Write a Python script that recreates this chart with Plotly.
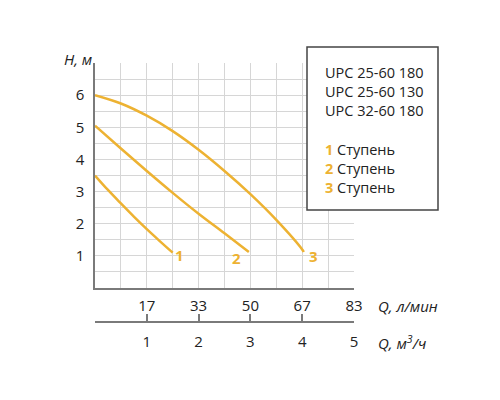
import plotly.graph_objects as go

ORANGE = "#EDB232"
GRID = "#d6d6d6"
AXIS = "#7a7a7a"
FONT = "Open Sans"

# flow in m3/h, head in m
q1 = [0, 0.25, 0.5, 0.75, 1.0, 1.25, 1.5]
h1 = [3.5, 3.05, 2.63, 2.22, 1.83, 1.46, 1.1]
q2 = [0, 0.5, 1.0, 1.5, 2.0, 2.5, 2.97]
h2 = [5.05, 4.34, 3.64, 2.96, 2.31, 1.7, 1.12]
q3 = [0, 0.5, 1.0, 1.5, 2.0, 2.5, 3.0, 3.5, 4.0, 4.03]
h3 = [6.0, 5.74, 5.36, 4.88, 4.3, 3.64, 2.92, 2.12, 1.2, 1.12]

speed_labels = ["1", "2", "3"]
models = ["UPC 25-60 180", "UPC 25-60 130", "UPC 32-60 180"]

q_m3h_ticks = [0, 1, 2, 3, 4, 5]
q_m3h_text = ["", "1", "2", "3", "4", "5"]
q_lmin_ticks = [1, 2, 3, 4, 5]
q_lmin_text = ["17", "33", "50", "67", "83"]
h_ticks = [1, 2, 3, 4, 5, 6]

# page geometry (px, screen coords; the page body adds ~8px)
OFF = 8
L, T, W, H = 95 - OFF, 63 - OFF, 259, 259


def px(x):
    return (x - OFF - L) / W


def py(y):
    return (T + H - (y - OFF)) / H


def note(x, y, text, size=15, color="#222", xanchor="left"):
    return dict(x=px(x), y=py(y), xref="paper", yref="paper", text=text, showarrow=False,
                xanchor=xanchor, yanchor="middle", font=dict(size=size, family=FONT, color=color))


fig = go.Figure()
for q, h in [(q1, h1), (q2, h2), (q3, h3)]:
    fig.add_trace(go.Scatter(x=q, y=h, mode="lines", line=dict(color=ORANGE, width=2.5, shape="spline"),
                             showlegend=False, hoverinfo="skip"))

# hidden trace for the second flow axis
fig.add_trace(go.Scatter(x=[0, 5], y=[0, 0], xaxis="x2", mode="lines", line=dict(width=0),
                         showlegend=False, hoverinfo="skip"))

ann = []
for (q, h), lab, dx, dy in zip([(q1, h1), (q2, h2), (q3, h3)], speed_labels, [7, -12, 10], [2, 6, 4]):
    ann.append(dict(x=q[-1], y=h[-1], text=f"<b>{lab}</b>", showarrow=False, xanchor="center", yanchor="middle",
                    xshift=dx, yshift=-dy, font=dict(color=ORANGE, size=15, family=FONT)))

ann.append(note(94, 59, "<i>H, м</i>", xanchor="right"))
ann.append(note(376, 306, "<i>Q, л/мин</i>"))
ann.append(note(376, 342, "<i>Q, м<sup>3</sup>/ч</i>"))

for i, m in enumerate(models):
    ann.append(note(323, 72 + 19 * i, m, size=14.5))
for i, lab in enumerate(speed_labels):
    ann.append(note(323, 149 + 19 * i, f"<b>{lab}</b>", size=14.5, color=ORANGE))
    ann.append(note(335, 149 + 19 * i, "Ступень", size=14.5))

fig.update_layout(
    width=500, height=400,
    margin=dict(l=L, r=500 - L - W, t=T, b=400 - T - H),
    plot_bgcolor="white", paper_bgcolor="white",
    font=dict(family=FONT, size=15, color="#222"),
    annotations=ann,
    shapes=[dict(type="rect", xref="paper", yref="paper", x0=px(307), x1=px(438), y0=py(210), y1=py(47),
                 line=dict(color="#444", width=1.5), fillcolor="white", layer="above")],
    xaxis=dict(range=[0, 5], tickvals=q_lmin_ticks, ticktext=q_lmin_text, showgrid=True, gridcolor=GRID,
               gridwidth=1, minor=dict(dtick=0.5, showgrid=True, gridcolor=GRID, gridwidth=1),
               ticks="", showline=True, linecolor=AXIS, linewidth=1.5, anchor="y", ticklabelstandoff=3,
               zeroline=False, tickfont=dict(color="#222")),
    xaxis2=dict(range=[0, 5], overlaying="x", anchor="free", position=0, side="bottom",
                tickvals=q_m3h_ticks, ticktext=q_m3h_text, ticks="inside", ticklen=7, tickwidth=1.5,
                tickcolor=AXIS, showline=True, linecolor=AXIS, linewidth=1.5, showgrid=False,
                ticklabelstandoff=6, zeroline=False, tickfont=dict(color="#222")),
    yaxis=dict(range=[0, 7], domain=[py(288), 1], tickvals=h_ticks, showgrid=True, gridcolor=GRID,
               gridwidth=1, minor=dict(dtick=0.5, showgrid=True, gridcolor=GRID, gridwidth=1),
               ticks="", showline=True, linecolor=AXIS, linewidth=1.5, ticklabelstandoff=6, zeroline=False,
               tickfont=dict(color="#222")),
)

fig.write_html("out.html")
